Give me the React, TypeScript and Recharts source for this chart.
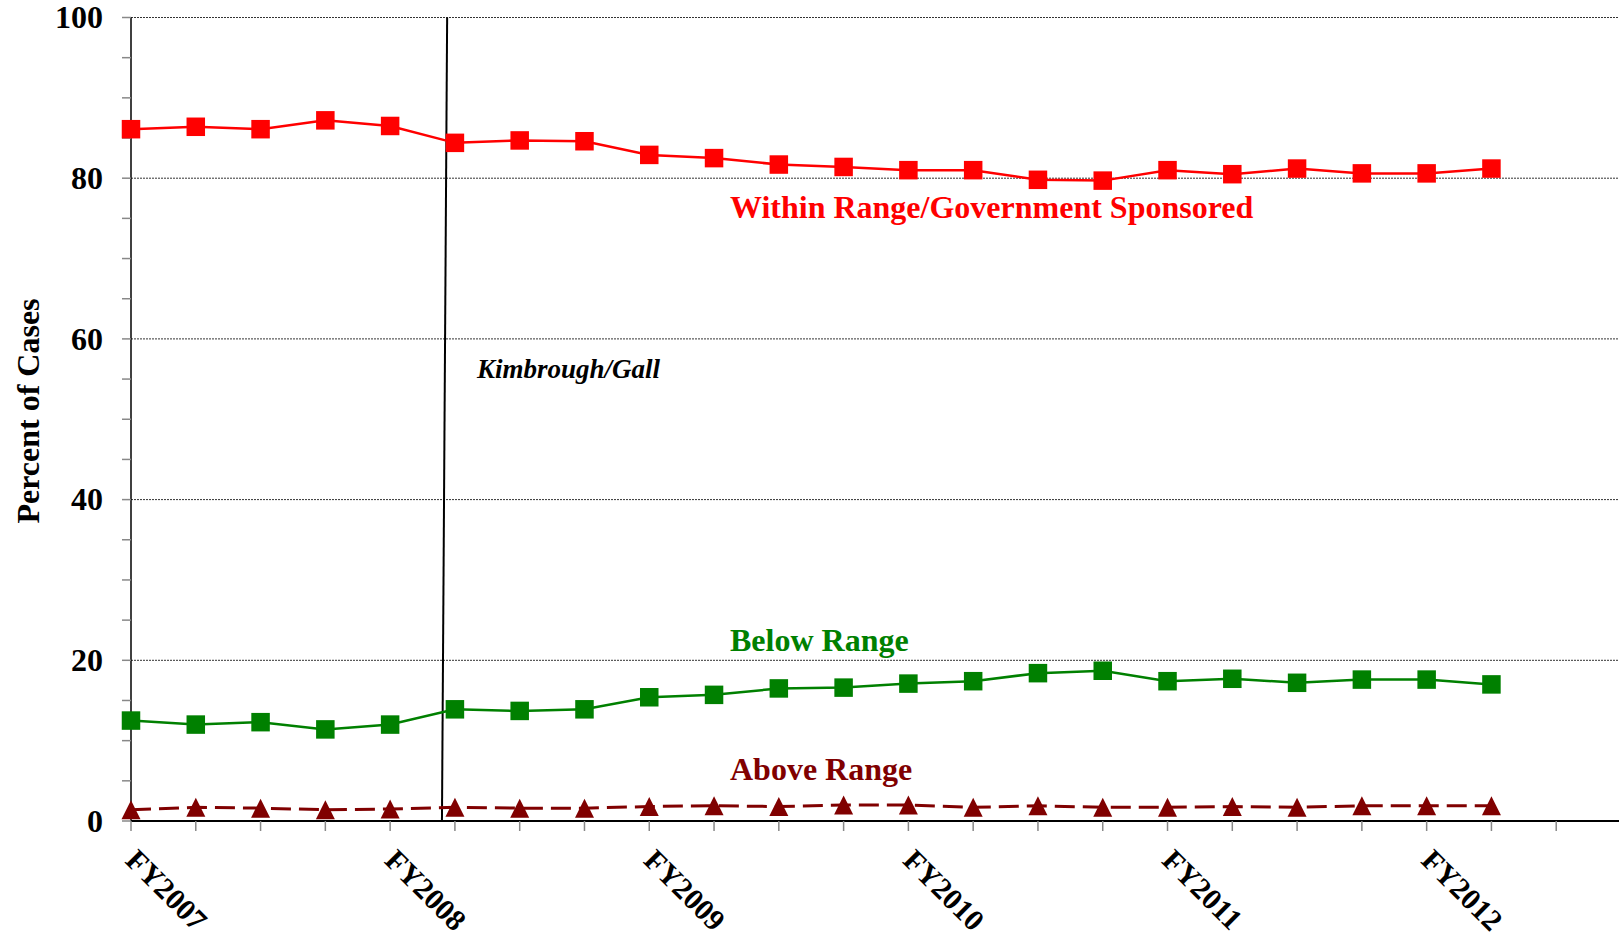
import React from "react";
import { LineChart, Line, XAxis, YAxis, ReferenceLine } from "recharts";

const quarters = [
  "FY2007 Q1", "FY2007 Q2", "FY2007 Q3", "FY2007 Q4",
  "FY2008 Q1", "FY2008 Q2", "FY2008 Q3", "FY2008 Q4",
  "FY2009 Q1", "FY2009 Q2", "FY2009 Q3", "FY2009 Q4",
  "FY2010 Q1", "FY2010 Q2", "FY2010 Q3", "FY2010 Q4",
  "FY2011 Q1", "FY2011 Q2", "FY2011 Q3", "FY2011 Q4",
  "FY2012 Q1", "FY2012 Q2",
];

const withinRange = [
  86.1, 86.4, 86.1, 87.2, 86.5, 84.4, 84.7, 84.6, 82.9, 82.5, 81.7,
  81.4, 81.0, 81.0, 79.8, 79.7, 81.0, 80.5, 81.2, 80.6, 80.6, 81.2,
];

const belowRange = [
  12.5, 12.0, 12.3, 11.4, 12.0, 13.9, 13.7, 13.9, 15.4, 15.7, 16.5,
  16.6, 17.1, 17.4, 18.4, 18.7, 17.4, 17.7, 17.2, 17.6, 17.6, 17.0,
];

const aboveRange = [
  1.4, 1.7, 1.6, 1.4, 1.5, 1.7, 1.6, 1.6, 1.8, 1.9, 1.8,
  2.0, 2.0, 1.7, 1.9, 1.7, 1.7, 1.8, 1.7, 1.9, 1.9, 1.9,
];

const fiscalYearLabels = ["FY2007", "FY2008", "FY2009", "FY2010", "FY2011", "FY2012"];
const yTicks = [0, 5, 10, 15, 20, 25, 30, 35, 40, 45, 50, 55, 60, 65, 70, 75, 80, 85, 90, 95, 100];
const yLabelTicks = [0, 20, 40, 60, 80, 100];
const gridValues = [20, 40, 60, 80, 100];
const kimbroughGall = { top: 4.88, bottom: 4.8, label: "Kimbrough/Gall" };

const xTicks = [...quarters.map((_, i) => i), quarters.length];

const data = quarters.map((q, i) => ({
  idx: i,
  quarter: q,
  within: withinRange[i],
  below: belowRange[i],
  above: aboveRange[i],
}));

const FONT = "'Liberation Serif', 'Times New Roman', Times, serif";
const RED = "#FF0000";
const GREEN = "#008000";
const BROWN = "#800000";

const XTick = (props: any) => {
  const { x, y, payload } = props;
  const v = payload.value;
  if (v % 4 !== 0) return <g />;
  const label = fiscalYearLabels[v / 4];
  if (!label) return <g />;
  return (
    <text
      transform={`translate(${x - 7},${y + 31}) rotate(45)`}
      textAnchor="start"
      fontFamily={FONT}
      fontWeight="bold"
      fontSize={30}
      fill="#000"
    >
      {label}
    </text>
  );
};

const YTick = (props: any) => {
  const { x, y, payload } = props;
  if (!yLabelTicks.includes(payload.value)) return <g />;
  return (
    <text
      x={x - 19}
      y={y}
      dy="0.34em"
      textAnchor="end"
      fontFamily={FONT}
      fontWeight="bold"
      fontSize={32}
      fill="#000"
    >
      {payload.value}
    </text>
  );
};

const SquareDot = (color: string) => (props: any) => {
  const { cx, cy, index } = props;
  if (cx == null || cy == null) return <g key={index} />;
  const s = 18.5;
  return <rect key={index} x={cx - s / 2} y={cy - s / 2} width={s} height={s} fill={color} />;
};

const TriangleDot = (color: string) => (props: any) => {
  const { cx, cy, index } = props;
  if (cx == null || cy == null) return <g key={index} />;
  const w = 19;
  const h = 19;
  return (
    <polygon
      key={index}
      points={`${cx},${cy - h / 2} ${cx + w / 2},${cy + h / 2} ${cx - w / 2},${cy + h / 2}`}
      fill={color}
    />
  );
};

export default function App() {
  return (
    <div
      style={{
        position: "fixed",
        left: 0,
        top: 0,
        width: 1619,
        height: 938,
        overflow: "hidden",
        background: "#fff",
      }}
    >
      <LineChart
        width={1630}
        height={938}
        data={data}
        margin={{ top: 17.5, right: 9, bottom: 0, left: 0 }}
      >
        {gridValues.map((g) => (
          <ReferenceLine
            key={g}
            y={g}
            stroke="#333"
            strokeWidth={1}
            strokeDasharray="2 1"
            isFront={false}
          />
        ))}
        <XAxis
          dataKey="idx"
          type="number"
          domain={[0, 23]}
          ticks={xTicks}
          interval={0}
          height={117}
          tickSize={10}
          tickMargin={0}
          axisLine={{ stroke: "#000", strokeWidth: 2 }}
          tickLine={{ stroke: "#888", strokeWidth: 1.5 }}
          tick={<XTick />}
          allowDecimals={false}
        />
        <YAxis
          type="number"
          domain={[0, 100]}
          ticks={yTicks}
          interval={0}
          width={131}
          tickSize={9}
          tickMargin={0}
          axisLine={{ stroke: "#000", strokeWidth: 1.5 }}
          tickLine={{ stroke: "#888", strokeWidth: 1.5 }}
          tick={<YTick />}
        />
        <ReferenceLine
          segment={[
            { x: kimbroughGall.top, y: 100 },
            { x: kimbroughGall.bottom, y: 0 },
          ]}
          stroke="#000"
          strokeWidth={2}
        />
        <Line
          dataKey="above"
          stroke={BROWN}
          strokeWidth={3}
          strokeDasharray="20 8"
          dot={TriangleDot(BROWN)}
          activeDot={false}
          isAnimationActive={false}
        />
        <Line
          dataKey="below"
          stroke={GREEN}
          strokeWidth={2.5}
          dot={SquareDot(GREEN)}
          activeDot={false}
          isAnimationActive={false}
        />
        <Line
          dataKey="within"
          stroke={RED}
          strokeWidth={2.5}
          dot={SquareDot(RED)}
          activeDot={false}
          isAnimationActive={false}
        />
      </LineChart>
      <svg
        width={1619}
        height={938}
        style={{ position: "absolute", left: 0, top: 0, pointerEvents: "none" }}
      >
        <text
          transform="translate(39,411) rotate(-90)"
          textAnchor="middle"
          fontFamily={FONT}
          fontWeight="bold"
          fontSize={32}
          fill="#000"
        >
          Percent of Cases
        </text>
        <text x={730} y={218} fontFamily={FONT} fontWeight="bold" fontSize={32} fill={RED}>
          Within Range/Government Sponsored
        </text>
        <text x={730} y={651} fontFamily={FONT} fontWeight="bold" fontSize={32} fill={GREEN}>
          Below Range
        </text>
        <text x={730} y={780} fontFamily={FONT} fontWeight="bold" fontSize={32} fill={BROWN}>
          Above Range
        </text>
        <text
          x={477}
          y={378}
          fontFamily={FONT}
          fontWeight="bold"
          fontStyle="italic"
          fontSize={27}
          fill="#000"
        >
          {kimbroughGall.label}
        </text>
      </svg>
    </div>
  );
}
